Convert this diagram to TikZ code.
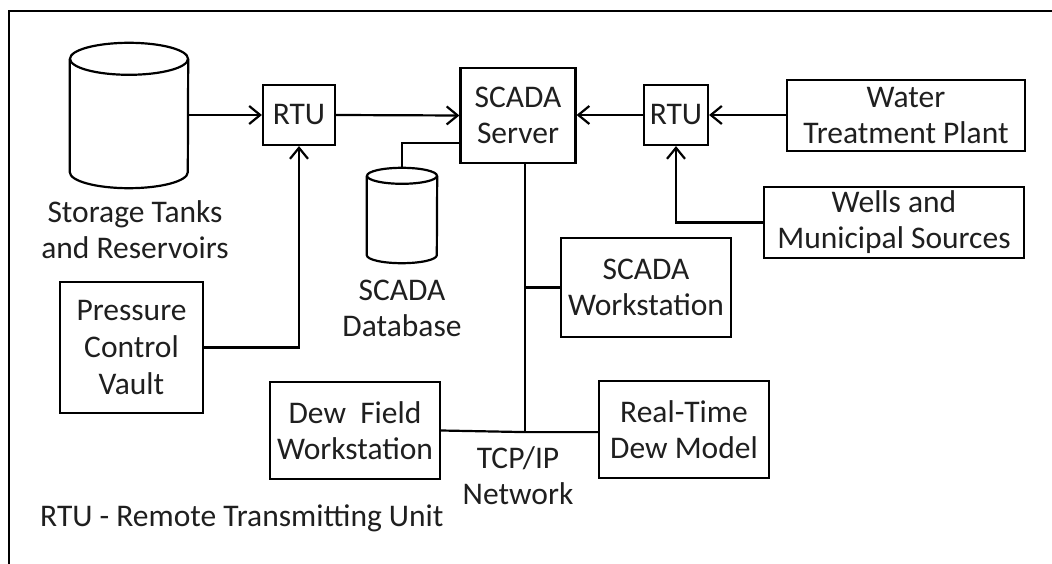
\documentclass[tikz,border=0pt]{standalone}
\usepackage{fontspec}
\setmainfont{Carlito}
\usetikzlibrary{arrows.meta,calc}
\begin{document}
\begin{tikzpicture}[x=1pt,y=-1pt,
  every node/.style={font=\fontsize{31.5}{36}\selectfont, text=black!88},
  box/.style={draw, line width=2.2pt, inner sep=0pt, align=center},
  lbl/.style={inner sep=0pt, align=center},
  ln/.style={line width=2.2pt},
  arr/.style={line width=2.2pt, -{Straight Barb[length=11pt,width=18pt]}}]
\useasboundingbox (0,0) rectangle (1052,564);
% frame
\draw[line width=1.5pt] (9,564) coordinate (fb) -- (9,11) coordinate (fc) -- (1052,11) coordinate (fr);
% storage tank
\node[inner sep=0pt, minimum width=118pt, minimum height=145pt] (tank) at (129,115.5) {};
\draw[ln] ($(tank.north)+(0,16)$) ellipse[x radius=59, y radius=16];
\draw[ln] ($(tank.north west)+(0,16)$) -- ($(tank.south west)+(0,-16)$)
  arc[start angle=180, end angle=0, x radius=59, y radius=16]
  -- ($(tank.north east)+(0,16)$);
\node[lbl] (tanklbl) at (135,230) {Storage Tanks\\and Reservoirs};
% RTUs
\node[box, minimum width=72pt, minimum height=60pt] (rtu1) at (299,115) {RTU};
\node[box, minimum width=64pt, minimum height=60pt] (rtu2) at (676,115) {RTU};
% server
\node[box, minimum width=115pt, minimum height=95pt] (server) at (518,115.5) {SCADA\\Server};
% database
\node[inner sep=0pt, minimum width=70pt, minimum height=95pt] (db) at (402,215.5) {};
\draw[ln] ($(db.north)+(0,8)$) ellipse[x radius=35, y radius=8];
\draw[ln] ($(db.north west)+(0,8)$) -- ($(db.south west)+(0,-8)$)
  arc[start angle=180, end angle=0, x radius=35, y radius=8]
  -- ($(db.north east)+(0,8)$);
\node[lbl] (dblbl) at (402,308) {SCADA\\Database};
% right side sources
\node[box, minimum width=238pt, minimum height=71pt] (wtp) at (906,115.5) {Water\\Treatment Plant};
\node[box, minimum width=260pt, minimum height=71pt] (wells) at (894,222.5) {Wells and\\Municipal Sources};
% workstations
\node[box, minimum width=170pt, minimum height=99pt] (ws) at (646,287.5) {SCADA\\Workstation};
\node[box, minimum width=143pt, minimum height=131pt, execute at begin node={\setlength{\baselineskip}{37pt}}] (pcv) at (131.5,347.5) {Pressure\\Control\\Vault};
\node[box, minimum width=170pt, minimum height=97pt] (dfw) at (355,430.5) {Dew\ \ Field\\Workstation};
\node[box, minimum width=170pt, minimum height=97pt] (rtdm) at (684,429.5) {Real-Time\\Dew Model};
\node[lbl] (tcp) at (518,476) {TCP/IP\\Network};
\node[lbl, anchor=west] (legend) at (40,518) {RTU - Remote Transmitting Unit};
% connectors
\draw[arr] (tank.east |- rtu1.west) -- (rtu1.west);
\draw[arr] (rtu1.east) -- (server.west);
\draw[arr] (rtu2.west) -- (server.east |- rtu2.west);
\draw[arr] (wtp.west |- rtu2.east) -- (rtu2.east);
\draw[arr] (wells.west) -| (rtu2.south);
\draw[arr] (pcv.east) -| (rtu1.south);
\coordinate (dbin) at ($(server.south west)!0.22!(server.north west)$);
\draw[ln] (db.north) |- (dbin);
\coordinate (bus) at ($(server.south)+(7,268)$);
\draw[ln] (server.south -| bus) -- (bus);
\draw[ln] (bus |- ws.west) -- (ws.west);
\draw[ln] (dfw.east) -- (bus) -- (rtdm.west |- bus);
\end{tikzpicture}
\end{document}
